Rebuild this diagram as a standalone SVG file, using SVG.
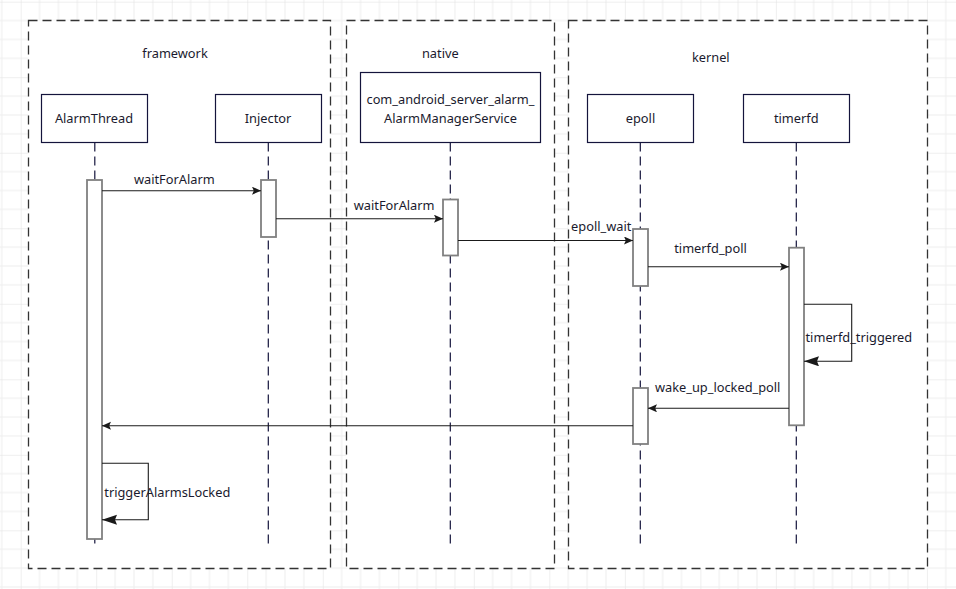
<svg xmlns="http://www.w3.org/2000/svg" width="956" height="589" viewBox="0 0 956 589">
<defs>
<pattern id="grid" patternUnits="userSpaceOnUse" x="20.7" y="1.7" width="75.52" height="75.52">
<path d="M18.88 0V75.52M37.76 0V75.52M56.64 0V75.52M0 18.88H75.52M0 37.76H75.52M0 56.64H75.52" stroke="#eeeeee" stroke-width="1" fill="none"/>
<path d="M0 0V75.52M0 0H75.52" stroke="#e0e0e0" stroke-width="1" fill="none"/>
</pattern>
<marker id="arr" markerUnits="userSpaceOnUse" markerWidth="10" markerHeight="9" refX="9" refY="4" orient="auto">
<path d="M0,0 L9,4 L0,8 L1.8,4 z" fill="#1a1a1a"/>
</marker>
<marker id="bigarr" markerUnits="userSpaceOnUse" markerWidth="16" markerHeight="12" refX="15" refY="5" orient="auto">
<path d="M0,0 L15,5 L0,10 L2,5 z" fill="#1a1a1a"/>
</marker>
<style>
.frame{fill:#ffffff;stroke:#333333;stroke-width:1.3;stroke-dasharray:9 5}
.head{fill:#ffffff;stroke:#14143c;stroke-width:1.2}
.life{stroke:#14143c;stroke-width:1.2;stroke-dasharray:9 5;fill:none}
.act{fill:#ffffff;stroke:#808080;stroke-width:1.8}
.msg{fill:none;stroke:#1a1a1a;stroke-width:1.1}
text{font-family:"Noto Sans","Open Sans","DejaVu Sans",sans-serif;font-size:12.8px;fill:#1a1a2e}
.c{text-anchor:middle}
</style>
</defs>
<rect x="0" y="0" width="956" height="589" fill="#ffffff"/>
<rect x="0" y="0" width="956" height="589" fill="url(#grid)"/>

<g id="frames">
<rect class="frame" x="28.5" y="20.5" width="302" height="548"/>
<rect class="frame" x="346.5" y="20.5" width="208" height="548"/>
<rect class="frame" x="568.5" y="20.5" width="359" height="548"/>
<text class="c" x="175" y="58.3">framework</text>
<text class="c" x="440.3" y="58.3">native</text>
<text class="c" x="710.8" y="62">kernel</text>
</g>

<g id="AlarmThread">
<line class="life" x1="94.8" y1="142.5" x2="94.8" y2="544"/>
<rect class="head" x="41.5" y="94.5" width="106" height="48"/>
<text class="c" x="94" y="123">AlarmThread</text>
<rect class="act" x="87" y="180" width="15" height="359"/>
</g>

<g id="Injector">
<line class="life" x1="268.3" y1="142.5" x2="268.3" y2="544"/>
<rect class="head" x="215.5" y="94.5" width="106" height="48"/>
<text class="c" x="268" y="123">Injector</text>
<rect class="act" x="261" y="180" width="15" height="57"/>
</g>

<g id="AlarmManagerService">
<line class="life" x1="450.3" y1="142.5" x2="450.3" y2="544"/>
<rect class="head" x="360.5" y="72.5" width="180" height="70"/>
<text class="c" x="450.5" y="104">com_android_server_alarm_</text>
<text class="c" x="450.5" y="122.5">AlarmManagerService</text>
<rect class="act" x="443" y="199.5" width="15" height="56"/>
</g>

<g id="epoll">
<line class="life" x1="640.3" y1="142.5" x2="640.3" y2="544"/>
<rect class="head" x="587.5" y="94.5" width="106" height="48"/>
<text class="c" x="640.5" y="123">epoll</text>
<rect class="act" x="633" y="229" width="15" height="57"/>
<rect class="act" x="633" y="388" width="15" height="56"/>
</g>

<g id="timerfd">
<line class="life" x1="796.3" y1="142.5" x2="796.3" y2="544"/>
<rect class="head" x="743.5" y="94.5" width="106" height="48"/>
<text class="c" x="796.3" y="123">timerfd</text>
<rect class="act" x="789" y="247.7" width="15" height="177.6"/>
</g>

<g id="connectors">
<line class="msg" x1="102" y1="190.7" x2="261" y2="190.7" marker-end="url(#arr)"/>
<text class="c" x="174.3" y="183.5">waitForAlarm</text>
<line class="msg" x1="276" y1="218.7" x2="443" y2="218.7" marker-end="url(#arr)"/>
<text class="c" x="394.2" y="210">waitForAlarm</text>
<line class="msg" x1="458" y1="240.5" x2="633" y2="240.5" marker-end="url(#arr)"/>
<text class="c" x="601.2" y="231">epoll_wait</text>
<line class="msg" x1="648" y1="266.7" x2="789" y2="266.7" marker-end="url(#arr)"/>
<text class="c" x="710.5" y="252.5">timerfd_poll</text>
<path class="msg" d="M804 304.3H851.7V361.3H804" marker-end="url(#bigarr)"/>
<text x="805.5" y="341.5">timerfd_triggered</text>
<line class="msg" x1="789" y1="408.3" x2="648" y2="408.3" marker-end="url(#arr)"/>
<text class="c" x="717.7" y="391.5">wake_up_locked_poll</text>
<line class="msg" x1="633" y1="425.7" x2="102" y2="425.7" marker-end="url(#arr)"/>
<path class="msg" d="M102 463.3H148.3V519.7H102" marker-end="url(#bigarr)"/>
<text x="104.3" y="496.7">triggerAlarmsLocked</text>
</g>
</svg>
